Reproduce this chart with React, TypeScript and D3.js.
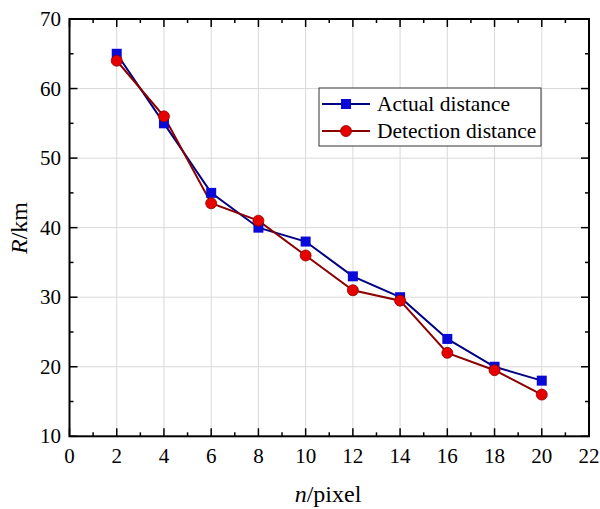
import * as d3 from 'd3'
import { useRef, useEffect } from 'react'

const nValues = [2, 4, 6, 8, 10, 12, 14, 16, 18, 20]
const actualDistance = [65, 55, 45, 40, 38, 33, 30, 24, 20, 18]
const detectionDistance = [64, 56, 43.5, 41, 36, 31, 29.5, 22, 19.5, 16]
const xTicks = [0, 2, 4, 6, 8, 10, 12, 14, 16, 18, 20, 22]
const yTicks = [10, 20, 30, 40, 50, 60, 70]
const seriesNames = ['Actual distance', 'Detection distance']

export default function App() {
  const svgRef = useRef<SVGSVGElement>(null)
  const width = 600
  const height = 509

  useEffect(() => {
    const svg = d3.select(svgRef.current)
    svg.selectAll('*').remove()

    const left = 69.5, right = 589, top = 19, bottom = 436.3
    const font = "'Liberation Serif', 'Times New Roman', serif"

    const x = d3.scaleLinear().domain([0, 22]).range([left, right])
    const y = d3.scaleLinear().domain([10, 70]).range([bottom, top])

    // grid
    const grid = svg.append('g').attr('stroke', '#d9d9d9').attr('stroke-width', 1)
    xTicks.slice(1, -1).forEach(t => {
      grid.append('line').attr('x1', x(t)).attr('x2', x(t)).attr('y1', top).attr('y2', bottom)
    })
    yTicks.slice(1, -1).forEach(t => {
      grid.append('line').attr('x1', left).attr('x2', right).attr('y1', y(t)).attr('y2', y(t))
    })

    // ticks (inward, mirrored)
    const tk = svg.append('g').attr('stroke', '#000').attr('stroke-width', 1.5)
    d3.range(0, 22.01, 1).forEach(t => {
      const len = t % 2 === 0 ? 8 : 4
      tk.append('line').attr('x1', x(t)).attr('x2', x(t)).attr('y1', bottom).attr('y2', bottom - len)
      tk.append('line').attr('x1', x(t)).attr('x2', x(t)).attr('y1', top).attr('y2', top + len)
    })
    d3.range(10, 70.01, 5).forEach(t => {
      const len = t % 10 === 0 ? 8 : 4
      tk.append('line').attr('x1', left).attr('x2', left + len).attr('y1', y(t)).attr('y2', y(t))
      tk.append('line').attr('x1', right).attr('x2', right - len).attr('y1', y(t)).attr('y2', y(t))
    })

    // frame
    svg.append('rect')
      .attr('x', left).attr('y', top)
      .attr('width', right - left).attr('height', bottom - top)
      .attr('fill', 'none').attr('stroke', '#000').attr('stroke-width', 2)

    // tick labels
    svg.append('g').selectAll('text').data(xTicks).enter().append('text')
      .attr('x', d => x(d)).attr('y', 463)
      .attr('text-anchor', 'middle')
      .style('font-family', font).style('font-size', '21px')
      .text(d => d)
    svg.append('g').selectAll('text').data(yTicks).enter().append('text')
      .attr('x', 61).attr('y', d => y(d) + 7)
      .attr('text-anchor', 'end')
      .style('font-family', font).style('font-size', '21px')
      .text(d => d)

    // axis titles
    const xt = svg.append('text')
      .attr('x', 328).attr('y', 502)
      .attr('text-anchor', 'middle')
      .style('font-family', font).style('font-size', '24px')
    xt.append('tspan').style('font-style', 'italic').text('n')
    xt.append('tspan').text('/pixel')

    const yt = svg.append('text')
      .attr('transform', `translate(27,228) rotate(-90)`)
      .attr('text-anchor', 'middle')
      .style('font-family', font).style('font-size', '24px')
    yt.append('tspan').style('font-style', 'italic').text('R')
    yt.append('tspan').text('/km')

    const line = d3.line<number>().x((_, i) => x(nValues[i])).y(d => y(d))

    svg.append('path').attr('d', line(actualDistance))
      .attr('fill', 'none').attr('stroke', '#000080').attr('stroke-width', 2)
    svg.append('path').attr('d', line(detectionDistance))
      .attr('fill', 'none').attr('stroke', '#8b0000').attr('stroke-width', 2)

    svg.append('g').selectAll('rect').data(actualDistance).enter().append('rect')
      .attr('x', (_, i) => x(nValues[i]) - 5).attr('y', d => y(d) - 5)
      .attr('width', 10).attr('height', 10)
      .attr('fill', '#0a0ad8')
    svg.append('g').selectAll('circle').data(detectionDistance).enter().append('circle')
      .attr('cx', (_, i) => x(nValues[i])).attr('cy', d => y(d))
      .attr('r', 5.5)
      .attr('fill', '#e60000').attr('stroke', '#8b0000').attr('stroke-width', 0.8)

    // legend
    const lg = svg.append('g')
    lg.append('rect').attr('x', 319).attr('y', 88).attr('width', 222).attr('height', 58)
      .attr('fill', '#fff').attr('stroke', '#333').attr('stroke-width', 1)
    const rows = [
      { y: 104, stroke: '#000080', fill: '#0a0ad8', sq: true },
      { y: 131, stroke: '#8b0000', fill: '#e60000', sq: false },
    ]
    rows.forEach((r, i) => {
      lg.append('line').attr('x1', 322).attr('x2', 370).attr('y1', r.y).attr('y2', r.y)
        .attr('stroke', r.stroke).attr('stroke-width', 2)
      if (r.sq) {
        lg.append('rect').attr('x', 341).attr('y', r.y - 5).attr('width', 10).attr('height', 10).attr('fill', r.fill)
      } else {
        lg.append('circle').attr('cx', 346).attr('cy', r.y).attr('r', 5.5).attr('fill', r.fill)
          .attr('stroke', '#8b0000').attr('stroke-width', 0.8)
      }
      lg.append('text').attr('x', 377).attr('y', r.y + 7)
        .style('font-family', font).style('font-size', '21.5px')
        .text(seriesNames[i])
    })
  }, [])

  return (
    <svg ref={svgRef} width={width} height={height}
      style={{ position: 'absolute', left: 0, top: 0, background: '#fff' }} />
  )
}
